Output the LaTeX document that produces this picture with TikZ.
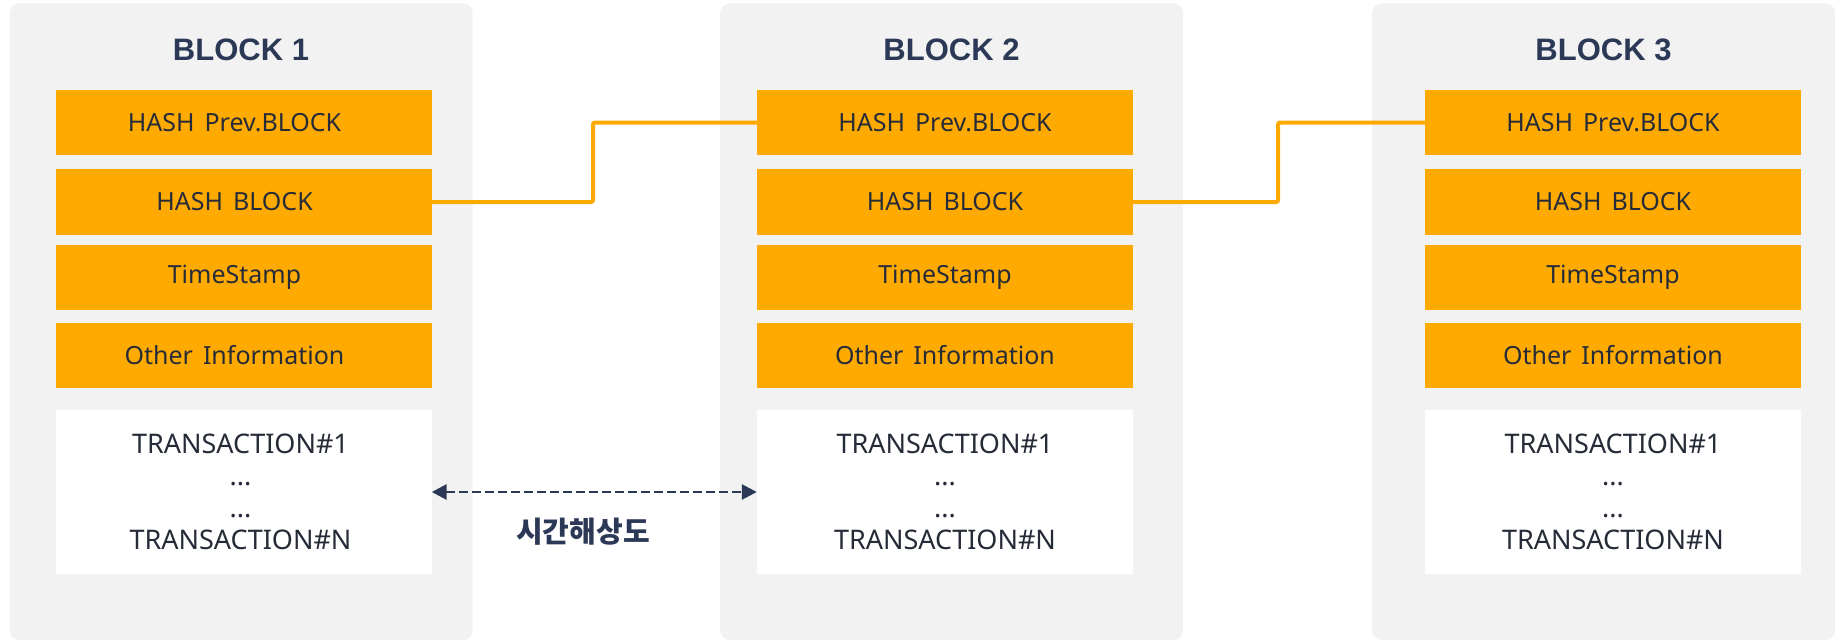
\documentclass[tikz,border=0pt]{standalone}
\usepackage{fontspec}
\setmainfont{Noto Sans}
\newfontfamily\titlefont{Liberation Sans}
\newfontfamily\cjk{Noto Sans CJK KR}
\usetikzlibrary{arrows.meta}
\definecolor{panelgray}{HTML}{F2F2F2}
\definecolor{hashorange}{HTML}{FFAA00}
\definecolor{navy}{HTML}{2B3856}
\definecolor{textdark}{HTML}{262B38}
\begin{document}
\begin{tikzpicture}[x=1pt,y=-1pt,
  panel/.style={fill=panelgray, rounded corners=10pt, draw=none, minimum width=463pt, minimum height=637pt, inner sep=0pt, anchor=north west},
  title/.style={anchor=base, text=navy, font=\titlefont\bfseries\fontsize{31}{31}\selectfont, inner sep=0pt},
  field/.style={fill=hashorange, minimum width=376pt, minimum height=65.5pt, inner sep=0pt, text=textdark, font=\fontsize{25}{25}\selectfont},
  txbox/.style={fill=white, minimum width=376pt, minimum height=164pt, inner sep=0pt, text=textdark, align=center, font=\fontsize{27}{32}\selectfont},
  link/.style={draw=hashorange, line width=4pt, rounded corners=2pt},
  span/.style={draw=navy, line width=2.8pt, dash pattern=on 9pt off 4pt, {Triangle[length=15pt,width=15pt]}-{Triangle[length=15pt,width=15pt]}}
]
\useasboundingbox (0,0) rectangle (1839,643);
\foreach \i/\px/\ox/\sh/\st in {1/9.5/55.5/-18pt/-6pt, 2/720/757/0pt/0pt, 3/1372/1425/0pt/0pt}{
  \node[panel] (panel\i) at (\px,3) {};
  \node[title] (title\i) at (\px+231.5,60) {BLOCK \i};
  \node[field] (prev\i) at (\ox+188,122.5) {\hspace*{\sh}HASH\hspace{0.4em}Prev.BLOCK};
  \node[field] (hash\i) at (\ox+188,202) {\hspace*{\sh}HASH\hspace{0.4em}BLOCK};
  \node[field] (time\i) at (\ox+188,277.5) {\hspace*{\sh}TimeStamp};
  \node[field] (other\i) at (\ox+188,355.5) {\hspace*{\sh}Other\hspace{0.4em}Information};
  \node[txbox] (tx\i) at (\ox+188,492) {\hspace*{\st}TRANSACTION\#1\\\hspace*{\st}...\\\hspace*{\st}...\\\hspace*{\st}TRANSACTION\#N};
}
\coordinate (m1) at (593,160);
\coordinate (m2) at (1278,160);
\draw[link] (hash1.east) -| (m1) |- (prev2.west);
\draw[link] (hash2.east) -| (m2) |- (prev3.west);
\draw[span] (tx1.east) -- (tx2.west);
\node[text=navy, font=\cjk\bfseries\fontsize{29}{29}\selectfont, inner sep=0pt] (res) at (583,532) {시간해상도};
\end{tikzpicture}
\end{document}
